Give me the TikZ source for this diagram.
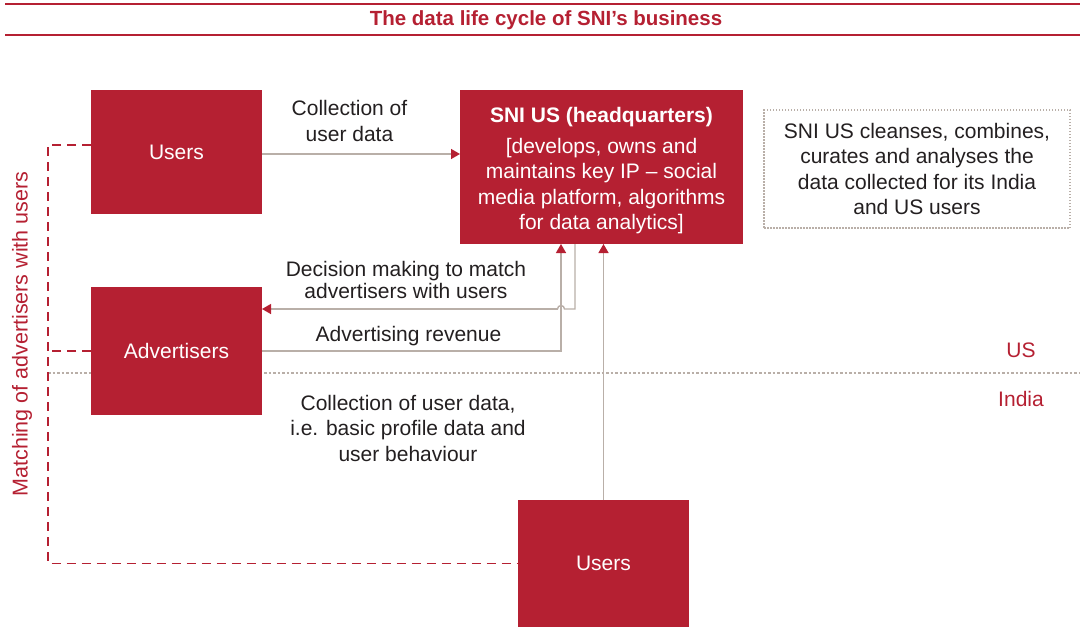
\documentclass[tikz,border=0pt]{standalone}
\usepackage{fontspec}
\setmainfont{Liberation Sans}
\usetikzlibrary{arrows.meta}
\definecolor{snired}{HTML}{B52032}
\definecolor{linegray}{HTML}{B9AFA8}
\definecolor{txt}{HTML}{231F20}

\begin{document}
\begin{tikzpicture}[x=1pt,y=-1pt,
  every node/.style={font=\fontsize{21}{25.5}\selectfont, inner sep=0pt, outer sep=0pt},
  redbox/.style={fill=snired, text=white, align=center},
  label/.style={text=txt, align=center},
  regionlbl/.style={text=snired},
  flow/.style={draw=linegray, line width=1.4pt,
    -{Triangle[length=9pt,width=10pt,color=snired]}},
  flowline/.style={draw=linegray, line width=1.4pt},
  matchline/.style={draw=snired, line width=1.2pt, dash pattern=on 9pt off 6pt},
  border/.style={draw=linegray, line width=1.5pt, dash pattern=on 2.5pt off 2pt},
  rule/.style={draw=snired, line width=1.5pt}]
\useasboundingbox (0,0) rectangle (1080,627);

% title band
\node[text=snired, font=\fontsize{20.5}{24}\selectfont\bfseries] (title) at (546,20) {The data life cycle of SNI’s business};
\coordinate (tl) at (5,4);
\coordinate (tr) at (1080,4);
\coordinate (bl) at (5,35);
\coordinate (br) at (1080,35);
\draw[rule] (tl) -- (tr);
\draw[rule] (bl) -- (br);

% US / India border
\coordinate (bordL) at (48,373);
\coordinate (bordR) at (1080,373);
\draw[border] (bordL) -- (bordR);
\node[regionlbl] (us) at (1021,350) {US};
\node[regionlbl] (india) at (1021,399) {India};

% actors
\node[redbox, minimum width=171pt, minimum height=124pt] (u1) at (176.5,152) {Users};
\node[redbox, minimum width=171pt, minimum height=128pt] (adv) at (176.5,351) {Advertisers};
\node[redbox, minimum width=171pt, minimum height=127pt] (u2) at (603.5,563.5) {Users};
\node[redbox, minimum width=283pt, minimum height=154pt] (sni) at (601.5,167) {};
\node[text=white, align=center] (snitxt) at (601.5,171)
  {\textbf{SNI US (headquarters)}\\[5pt]{[}develops, owns and\\maintains key IP – social\\media platform, algorithms\\for data analytics{]}};

% note
\node[label, draw=linegray, line width=1.3pt, dash pattern=on 1.5pt off 1.5pt,
  minimum width=306pt, minimum height=118pt] (note) at (917,169)
  {SNI US cleanses, combines,\\curates and analyses the\\data collected for its India\\and US users};

% matching of advertisers with users
\coordinate (lft) at (48,145);
\draw[matchline] ([yshift=7pt]u1.west) -- (lft) |- (u2.west);
\draw[matchline] (adv.west) -- (adv.west -| lft);
\node[regionlbl, rotate=90, font=\fontsize{21.5}{25}\selectfont] (match) at (22,334) {Matching of advertisers with users};

% flows
\draw[flow] ([yshift=-2pt]u1.east) -- ([yshift=-2pt]u1.east -| sni.west);
\node[label] (lcol) at (349.5,121) {Collection of\\user data};

\coordinate (decTop) at ([xshift=-26.5pt]sni.south);
\coordinate (revTop) at ([xshift=-40.5pt]sni.south);
\coordinate (jumpR) at (564.5,309);
\coordinate (jumpL) at (557.5,309);
\draw[flowline] (decTop) |- (jumpR) arc[start angle=0, end angle=180, radius=3.5pt];
\draw[flow] (jumpL) -- ([yshift=42pt]adv.east);
\node[label, font=\fontsize{21}{22}\selectfont] (ldec) at (406,280) {Decision making to match\\advertisers with users};

\draw[flow] (adv.east) -| (revTop);
\node[label] (lrev) at (408.5,336) {Advertising revenue};

\draw[flow] (u2.north) -- (u2.north |- sni.south);
\node[label] (lind) at (408,428) {Collection of user data,\\i.e. basic profile data and\\user behaviour};
\end{tikzpicture}
\end{document}
